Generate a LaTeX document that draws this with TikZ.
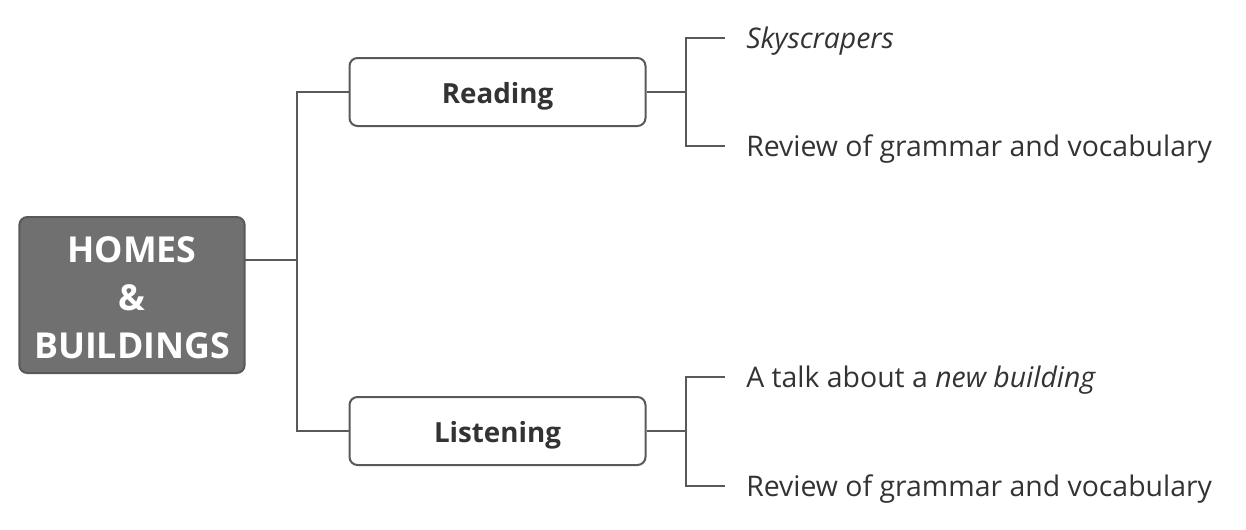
\documentclass[tikz,border=0pt]{standalone}
\usepackage{fontspec}
\setmainfont{Open Sans}
\definecolor{linegray}{HTML}{595959}
\definecolor{rootgray}{HTML}{707070}
\definecolor{textgray}{HTML}{333333}
\tikzset{
	rootbox/.style={rectangle,rounded corners=6pt,draw=linegray,line width=1.5pt,fill=rootgray,
		text=white,font=\fontsize{26.8}{36}\selectfont\bfseries,align=center,minimum width=169pt,minimum height=117pt},
	topicbox/.style={rectangle,rounded corners=6pt,draw=linegray,line width=1.5pt,fill=white,text height=21pt,text depth=4pt,
		text=textgray,font=\fontsize{20.8}{25}\selectfont\bfseries,minimum width=222pt,minimum height=51pt},
	leaf/.style={anchor=west,inner xsep=15.75pt,inner ysep=0pt,text height=21pt,text depth=5pt,
		text=textgray,font=\fontsize{21.3}{26}\selectfont},
	link/.style={draw=linegray,line width=1.5pt}
}
\begin{document}
\begin{tikzpicture}[x=0.75pt,y=-0.75pt]
	\useasboundingbox (0,0) rectangle (1246,529);
	\draw[] (132,295) node[rootbox] (root) {\rule{0pt}{24pt}HOMES\\ \&\\ BUILDINGS};
	\draw[] (497.5,92) node[topicbox] (read) {Reading};
	\draw[] (497.5,431) node[topicbox] (listen) {Listening};
	
	\draw[] (725,38) node[leaf] (sky) {\itshape Skyscrapers};
	\draw[] (725,146) node[leaf] (rrev) {Review of grammar and vocabulary};
	\draw[] (725,377) node[leaf] (talk) {A talk about a \textit{new building}};
	\draw[] (725,486) node[leaf] (lrev) {Review of grammar and vocabulary};
	
	\coordinate (rootout) at (245,260);
	\coordinate (rj) at (297,260);
	\coordinate (readj) at (686,92);
	\coordinate (listenj) at (686,431);
	
	\draw[link] (rootout) -- (rj);
	\draw[link] (rj) |- (read.west);
	\draw[link] (rj) |- (listen.west);
	
	\draw[link] (read.east) -- (readj);
	\draw[link] (readj) |- (sky.west);
	\draw[link] (readj) |- (rrev.west);
	\draw[link] (listen.east) -- (listenj);
	\draw[link] (listenj) |- (talk.west);
	\draw[link] (listenj) |- (lrev.west);

	\end{tikzpicture}
\end{document}
